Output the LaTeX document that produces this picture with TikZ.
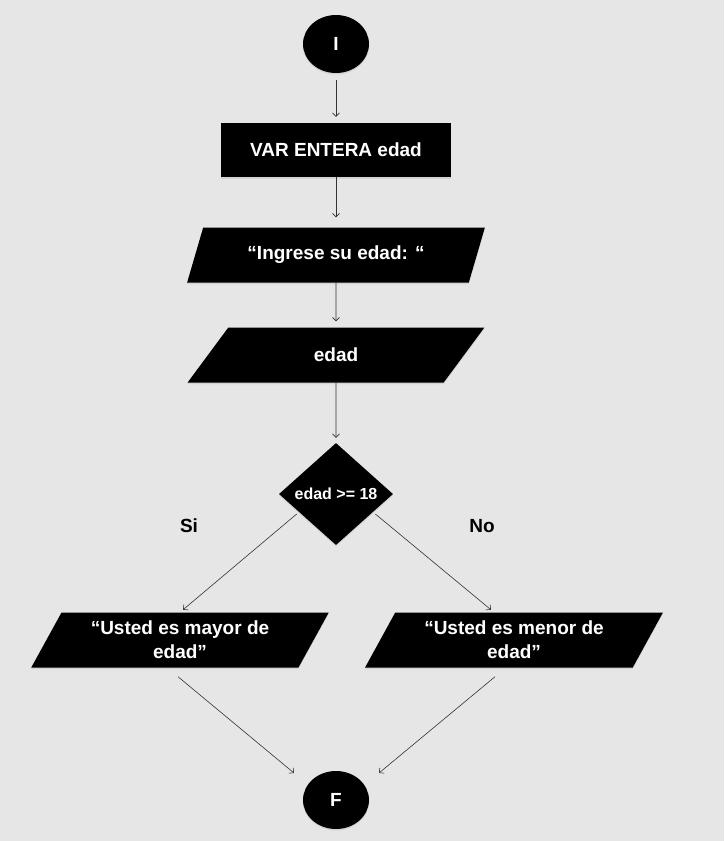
\documentclass[tikz,border=0pt]{standalone}
\usepackage{fontspec}
\setmainfont{Liberation Sans}
\usepackage{xcolor}
\usetikzlibrary{shapes}
\usetikzlibrary{positioning}
\usetikzlibrary{arrows.meta}
\usetikzlibrary{shadows}

\definecolor{fondo}{HTML}{E6E6E6}
\definecolor{linea}{HTML}{333333}

\tikzset{
    sombra/.style={drop shadow={opacity=0.18, shadow xshift=0pt, shadow yshift=-1.5pt}},
    terminal/.style={ellipse, fill=black, text=white, sombra, minimum width=66pt, minimum height=58pt, inner sep=0pt, font=\bfseries\fontsize{19}{24}\selectfont},
    proceso/.style={rectangle, fill=black, text=white, sombra, minimum width=230pt, minimum height=54pt, inner sep=0pt, font=\bfseries\fontsize{19}{24}\selectfont},
    datos/.style={trapezium, trapezium left angle=59, trapezium right angle=121, trapezium stretches=true, fill=black, text=white, sombra, minimum width=298pt, minimum height=55pt, inner sep=0pt, align=center, font=\bfseries\fontsize{19}{24}\selectfont},
    decision/.style={diamond, aspect=1.1, fill=black, text=white, sombra, minimum width=114pt, minimum height=102pt, inner sep=0pt, font=\bfseries\fontsize{16}{19}\selectfont},
    etiqueta/.style={text=black, font=\bfseries\fontsize{19}{24}\selectfont},
    flecha/.style={-{Straight Barb[length=3.5pt, width=7pt]}, draw=linea, line width=0.6pt}
}

\begin{document}
\begin{tikzpicture}[x=1pt, y=-1pt]
        \useasboundingbox[fill=fondo] (0,0) rectangle (724,841);
    %Nodes
        \node[terminal] (inicio) at (336,44) {I};
        \node[proceso] (var) at (336,150) {VAR ENTERA edad};
        \node[datos] (pedir) at (336,255) {“Ingrese su edad: “};
        \node[datos] (leer) at (336,355) {edad};
        \node[decision] (cond) at (336,494) {edad >= 18};
        \node[datos] (mayor) at (180,640) {“Usted es mayor de\\edad”};
        \node[datos] (menor) at (514,640) {“Usted es menor de\\edad”};
        \node[terminal] (fin) at (336,800) {F};
    %Labels
        \node[etiqueta] (si) at (189,526) {Si};
        \node[etiqueta] (no) at (482,526) {No};
    %Arrows
        \draw[flecha, shorten <=7pt, shorten >=6pt] (inicio) -- (var);
        \draw[flecha, shorten >=10pt] (var) -- (pedir);
        \draw[flecha, shorten >=6pt] (pedir) -- (leer);
        \draw[flecha, shorten >=5pt] (leer) -- (cond);
        \draw[flecha, shorten <=3pt, shorten >=4pt] (cond.206) -- (mayor.north);
        \draw[flecha, shorten <=3pt, shorten >=4pt] (cond.334) -- ([xshift=-20pt]menor.north);
        \draw[flecha] ([xshift=-2pt, yshift=-9pt]mayor.south) -- ([xshift=-42pt, yshift=27pt]fin.center);
        \draw[flecha] ([xshift=-19pt, yshift=-9pt]menor.south) -- ([xshift=43pt, yshift=27pt]fin.center);
\end{tikzpicture}
\end{document}
